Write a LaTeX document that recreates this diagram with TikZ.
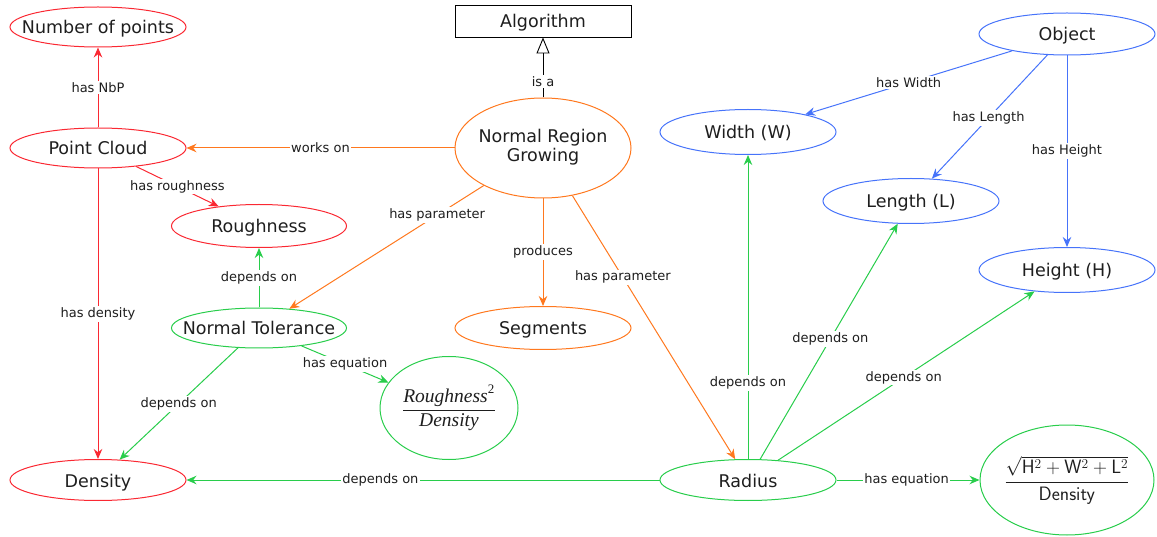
\documentclass[tikz,border=0pt]{standalone}
\usepackage{amsmath}
\usepackage{graphicx}
\usepackage[no-math]{fontspec}
\setmainfont{DejaVu Sans}
\newfontfamily\eqfont{Liberation Serif}
\usetikzlibrary{shapes.geometric,arrows.meta}
\definecolor{cred}{RGB}{250,40,50}
\definecolor{corange}{RGB}{255,120,30}
\definecolor{cgreen}{RGB}{40,205,75}
\definecolor{cblue}{RGB}{70,115,250}
\definecolor{ctext}{RGB}{30,30,30}
\newcommand{\zw}[1]{\makebox[0pt][c]{#1}}
\tikzset{
  ell/.style={ellipse, draw, line width=1pt, inner sep=0pt, minimum width=176pt, minimum height=40pt, text=ctext, font=\fontsize{17.5}{20}\selectfont, text height=14pt, text depth=0pt},
  lbl/.style={fill=white, inner sep=1.5pt, text=ctext, font=\fontsize{13}{15}\selectfont},
  arr/.style={line width=1pt, -{Stealth[length=10pt,width=8.5pt]}},
}
\begin{document}
\begin{tikzpicture}[x=1pt,y=-1pt]
\useasboundingbox (0,0) rectangle (1157,537);
% nodes
\node[ell, draw=cred] (nop) at (98,27) {\zw{Number of points}};
\node[draw, line width=0.9pt, minimum width=176pt, minimum height=32pt, inner sep=0pt, text=ctext, font=\fontsize{17.5}{20}\selectfont, text height=14pt, text depth=0pt] (alg) at (543,21) {Algorithm};
\node[ell, draw=cblue, minimum height=42pt] (obj) at (1067,34) {\zw{Object}};
\node[ell, draw=cred] (pc) at (98,148) {\zw{Point Cloud}};
\node[ell, draw=corange, minimum height=100pt, text height=, text depth=] (nrg) at (543,148) {\zw{\raisebox{-3pt}{\begin{tabular}{@{}c@{}}Normal Region\\[-0.5pt]Growing\end{tabular}}}};
\node[ell, draw=cblue, minimum height=45pt] (wid) at (748,132) {\zw{Width (W)}};
\node[ell, draw=cblue, minimum height=45pt] (len) at (911,201) {\zw{Length (L)}};
\node[ell, draw=cred, minimum width=175pt, minimum height=43pt] (rou) at (259,226) {\zw{Roughness}};
\node[ell, draw=cblue, minimum height=45pt] (hei) at (1067,270) {\zw{Height (H)}};
\node[ell, draw=cgreen, minimum width=175pt] (nt) at (259,328) {\zw{Normal Tolerance}};
\node[ell, draw=corange, minimum height=43pt] (seg) at (543,328) {\zw{Segments}};
\node[ell, draw=cgreen, minimum width=138pt, minimum height=103pt, text height=, text depth=] (eqa) at (449,408) {\zw{$\dfrac{\mbox{\eqfont\itshape\fontsize{19.5}{20}\selectfont Roughness}^{\mbox{\eqfont\fontsize{13}{13}\selectfont 2}}}{\mbox{\eqfont\itshape\fontsize{19.5}{20}\selectfont Density}}$}};
\node[ell, draw=cred, minimum height=41pt] (den) at (98,480) {\zw{Density}};
\node[ell, draw=cgreen, minimum height=41pt] (rad) at (748,480) {\zw{Radius}};
\node[ell, draw=cgreen, minimum width=174pt, minimum height=110pt, text height=, text depth=] (eqb) at (1067,480) {\zw{\scalebox{1.12}{$\dfrac{\sqrt{\mathsf{H}^2+\mathsf{W}^2+\mathsf{L}^2}}{\mathsf{Density}}$}}};
% edges
\draw[arr, cred] (pc) -- node[lbl, midway] {has NbP} (nop);
\draw[line width=0.9pt, -{Triangle[open,length=16pt,width=13pt]}] (nrg) -- node[lbl, pos=0.26] {is a} (alg);
\draw[arr, corange] (nrg) -- node[lbl, midway] {works on} (pc);
\draw[arr, cred] (pc) -- node[lbl, midway] {has roughness} (rou);
\draw[arr, cred] (pc) -- node[lbl, midway] {has density} (den);
\draw[arr, corange] (nrg) -- node[lbl, pos=0.24] {has parameter} (nt);
\draw[arr, corange] (nrg) -- node[lbl, midway] {produces} (seg);
\draw[arr, corange] (nrg) -- node[lbl, pos=0.31] {has parameter} (rad);
\draw[arr, cgreen] (nt) -- node[lbl, midway] {depends on} (rou);
\draw[arr, cgreen] (nt) -- node[lbl, midway] {has equation} (eqa);
\draw[arr, cgreen] (nt) -- node[lbl, midway] {depends on} (den);
\draw[arr, cgreen] (rad) -- node[lbl, pos=0.59] {depends on} (den);
\draw[arr, cgreen] (rad) -- node[lbl, pos=0.25] {depends on} (wid);
\draw[arr, cgreen] (rad) -- node[lbl, pos=0.51] {depends on} (len);
\draw[arr, cgreen] (rad) -- node[lbl, pos=0.49] {depends on} (hei);
\draw[arr, cgreen] (rad) -- node[lbl, pos=0.49] {has equation} (eqb);
\draw[arr, cblue] (obj) -- node[lbl, midway] {has Width} (wid);
\draw[arr, cblue] (obj) -- node[lbl, pos=0.51] {has Length} (len);
\draw[arr, cblue] (obj) -- node[lbl, midway] {has Height} (hei);
\end{tikzpicture}
\end{document}
